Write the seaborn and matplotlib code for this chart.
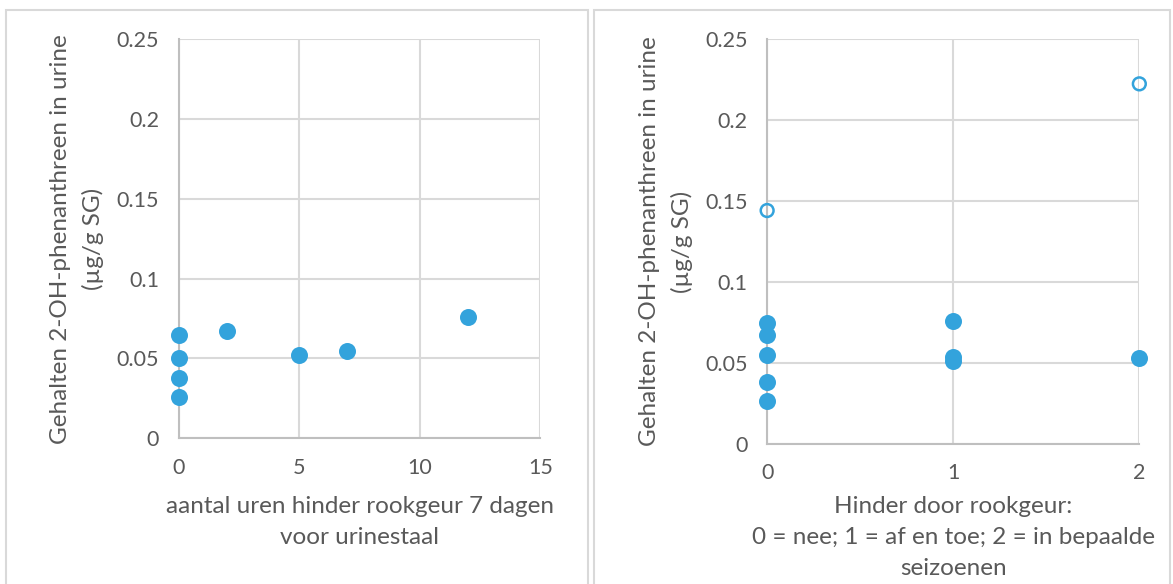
import pandas as pd
import seaborn as sns
import matplotlib.pyplot as plt
from matplotlib.patches import Rectangle

# Left panel: hours of smoke-odour nuisance vs. 2-OH-phenanthrene
hours = [0, 0, 0, 0, 2, 5, 7, 12]
hours_conc = [0.0646, 0.0505, 0.0375, 0.0258, 0.0669, 0.0523, 0.0547, 0.0758]

# Right panel: nuisance class vs. 2-OH-phenanthrene
klasse = [0, 0, 0, 0, 0, 1, 1, 1, 2]
klasse_conc = [0.0745, 0.0671, 0.0551, 0.0382, 0.0262, 0.0759, 0.0539, 0.0509, 0.0532]
# outliers shown as open circles
klasse_out = [0, 2]
klasse_out_conc = [0.1442, 0.2225]

yticks = [0, 0.05, 0.1, 0.15, 0.2, 0.25]
ytick_labels = ['0', '0.05', '0.1', '0.15', '0.2', '0.25']

df_hours = pd.DataFrame({'x': hours, 'y': hours_conc})
df_klasse = pd.DataFrame({'x': klasse, 'y': klasse_conc})
df_out = pd.DataFrame({'x': klasse_out, 'y': klasse_out_conc})

sns.set_style('white')
plt.rcParams['font.family'] = ['Lato', 'DejaVu Sans']

blue = '#33a3dc'
text_grey = '#595959'
grid_grey = '#d9d9d9'
axis_grey = '#bfbfbf'
tick_fs = 15.5
lab_fs = 17.5
lsp = 1.6

fig = plt.figure(figsize=(11.73, 5.84), dpi=100)

# panel borders
fig.patches.append(Rectangle((6 / 1173, -0.01), 582 / 1173, 1 - 10 / 584 + 0.01,
                             transform=fig.transFigure, fill=False,
                             edgecolor=grid_grey, lw=1.5))
fig.patches.append(Rectangle((594 / 1173, -0.01), 576 / 1173, 1 - 10 / 584 + 0.01,
                             transform=fig.transFigure, fill=False,
                             edgecolor=grid_grey, lw=1.5))

ax1 = fig.add_axes([0.1523, 0.2497, 0.3084, 0.6830])
ax2 = fig.add_axes([0.654, 0.240, 0.3173, 0.6926])

ylab = 'Gehalten 2-OH-phenanthreen in urine\n(µg/g SG)'


def style_axis(ax, xticks, xlim):
    ax.set_xlim(xlim)
    ax.set_ylim(0, 0.25)
    ax.set_xticks(xticks)
    ax.set_yticks(yticks)
    ax.set_yticklabels(ytick_labels)
    ax.grid(True, color=grid_grey, lw=1.5)
    ax.set_axisbelow(True)
    for side in ['top', 'right']:
        ax.spines[side].set_visible(False)
    for side in ['left', 'bottom']:
        ax.spines[side].set_color(axis_grey)
        ax.spines[side].set_linewidth(1.5)
    ax.tick_params(length=0, pad=14, labelsize=tick_fs, colors=text_grey)
    ax.set_ylabel(ylab, fontsize=lab_fs, color=text_grey, linespacing=lsp,
                  labelpad=9)


sns.scatterplot(data=df_hours, x='x', y='y', ax=ax1, s=150, color=blue,
                edgecolor=blue, linewidth=0, clip_on=False, zorder=3)
style_axis(ax1, [0, 5, 10, 15], (0, 15))
ax1.set_xlabel('aantal uren hinder rookgeur 7 dagen\nvoor urinestaal',
               fontsize=lab_fs, color=text_grey, linespacing=lsp, labelpad=13)

sns.scatterplot(data=df_klasse, x='x', y='y', ax=ax2, s=150, color=blue,
                edgecolor=blue, linewidth=0, clip_on=False, zorder=3)
sns.scatterplot(data=df_out, x='x', y='y', ax=ax2, s=85, facecolor='none',
                edgecolor=blue, linewidth=1.8, clip_on=False, zorder=3)
style_axis(ax2, [0, 1, 2], (0, 2))
ax2.set_xlabel('Hinder door rookgeur:\n0 = nee; 1 = af en toe; 2 = in bepaalde\nseizoenen',
               fontsize=lab_fs, color=text_grey, linespacing=lsp, labelpad=9)

fig.savefig('out.png', dpi=100)
